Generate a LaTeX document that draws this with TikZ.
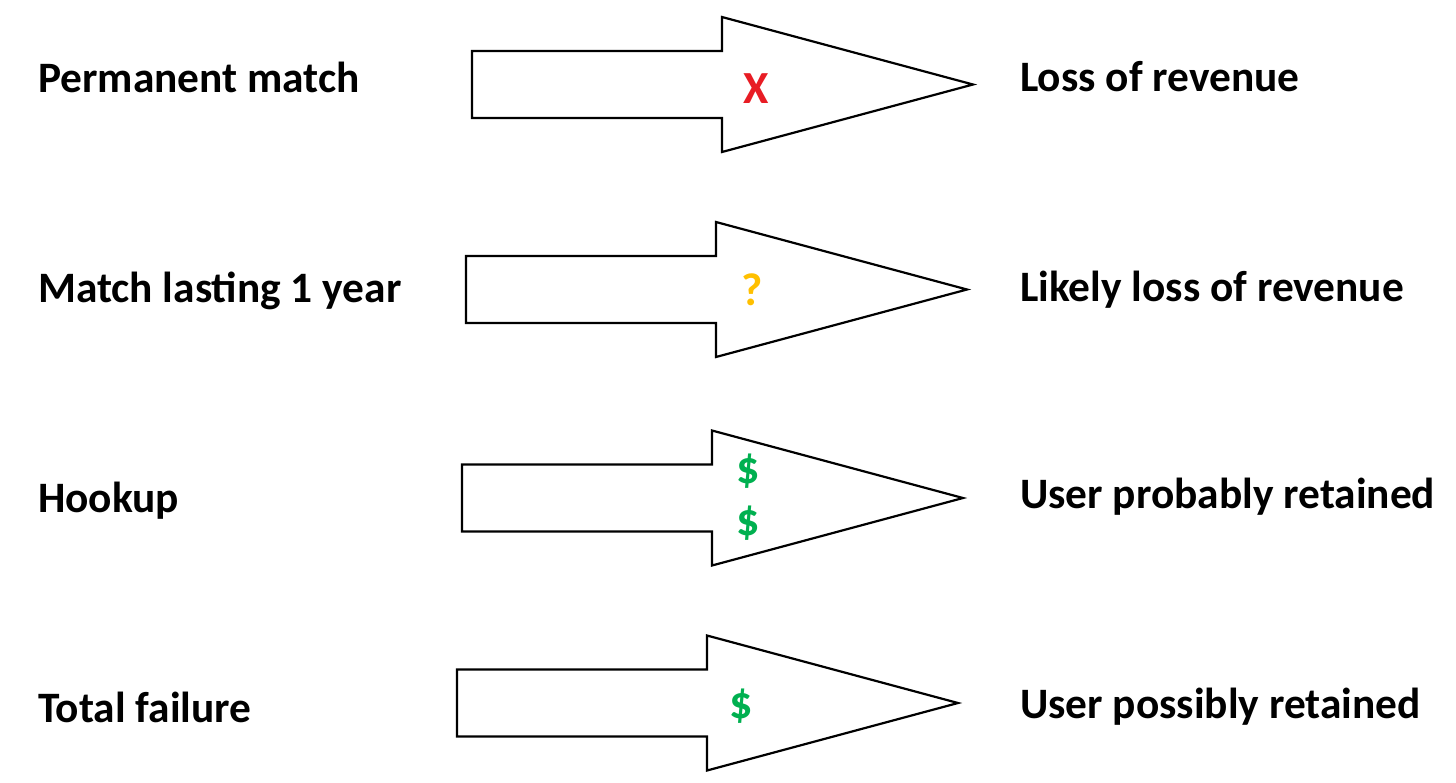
\documentclass[tikz,border=0pt]{standalone}
\usepackage{fontspec}
\setmainfont{Carlito}
\usepackage{tikz}
\usetikzlibrary{positioning}
\definecolor{markred}{RGB}{232,28,36}
\definecolor{markgold}{RGB}{255,192,0}
\definecolor{markgreen}{RGB}{0,176,80}
\tikzset{
  case/.style={anchor=base west, inner sep=0pt, font=\fontsize{43.4}{50}\selectfont\bfseries},
  outcome/.style={anchor=base west, inner sep=0pt, font=\fontsize{43.4}{50}\selectfont\bfseries},
  sign/.style={inner sep=0pt, font=\fontsize{46}{52}\selectfont\bfseries},
  blockarrow/.style={draw=black, line width=2.2pt, fill=white, line join=miter},
}

\begin{document}
\begin{tikzpicture}[x=1pt, y=-1pt]
    \useasboundingbox (0,0) rectangle (1456,782);
    % block arrows, one per row
    \foreach \row/\yc/\xl in {1/84.5/472, 2/289.5/466, 3/498/462, 4/703/457}{
      \draw[blockarrow] (\xl,\yc-33.5) -- (\xl+250,\yc-33.5) -- (\xl+250,\yc-67.5)
        -- (\xl+501,\yc) -- (\xl+250,\yc+67.5) -- (\xl+250,\yc+33.5)
        -- (\xl,\yc+33.5) -- cycle;
    }
    \node[case] (perm)    at (38,92)  {Permanent match};
    \node[case] (year)    at (38,302) {Match lasting 1 year};
    \node[case] (hookup)  at (38,512) {Hookup};
    \node[case] (failure) at (38,722) {Total failure};
    \node[outcome] (loss)     at (1020,91)  {Loss of revenue};
    \node[outcome] (likely)   at (1020,301) {Likely loss of revenue};
    \node[outcome] (probably) at (1020,508) {User probably retained};
    \node[outcome] (possibly) at (1020,718) {User possibly retained};
    \node[sign, text=markred]   (x)  at (756,89)  {X};
    \node[sign, text=markgold]  (q)  at (752,290) {?};
    \node[sign, text=markgreen] (d1) at (748,471) {\$};
    \node[sign, text=markgreen] (d2) at (748,523) {\$};
    \node[sign, text=markgreen] (d3) at (741,706) {\$};
  \end{tikzpicture}
\end{document}
